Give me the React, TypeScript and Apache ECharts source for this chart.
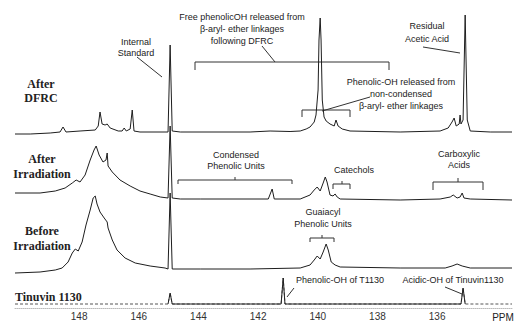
import React, { useEffect, useRef } from "react";
import * as echarts from "echarts";

// chemical shift (ppm) and intensity (arbitrary units) for each trace
const dfrcPpm = [150.15, 149.64, 148.97, 148.64, 148.54, 148.44, 147.97, 147.46, 147.36, 147.30, 147.23, 147.13, 147.06, 146.96, 146.69, 146.56, 146.49, 146.42, 146.29, 146.22, 146.16, 145.96, 145.02, 144.95, 144.88, 144.61, 142.27, 141.60, 140.93, 140.59, 140.39, 140.26, 140.12, 140.06, 139.99, 139.96, 139.92, 139.89, 139.85, 139.79, 139.72, 139.59, 139.45, 139.39, 139.32, 139.18, 138.92, 137.24, 135.90, 135.63, 135.50, 135.43, 135.36, 135.26, 135.23, 135.20, 135.13, 135.06, 134.99, 134.89, 134.22, 133.49];
const dfrcInt = [-2, -2, -1, 0, 5, 0, 1, 2, 6, 20, 8, 7, 8, 4, 1, 1, 4, 1, 3, 22, 1, 0, 0, 87, 1, 0, 0, 1, 0.5, 1, 3, 5, 10, 17, 42, 92, 114, 92, 32, 15, 11, 8, 6, 12, 6, 3, 1, 0, 1, 4, 10, 14, 6, 8, 17, 8, 12, 117, 12, 1, 0, 0];

const irrPpm = [150.15, 149.31, 148.80, 148.47, 148.23, 148.10, 147.97, 147.80, 147.63, 147.50, 147.43, 147.33, 147.20, 147.10, 147.06, 147.03, 146.89, 146.63, 146.29, 145.96, 145.62, 145.28, 145.02, 144.95, 144.88, 144.61, 143.94, 141.66, 141.53, 141.46, 140.59, 140.26, 140.12, 140.02, 139.92, 139.82, 139.75, 139.69, 139.59, 139.49, 139.42, 139.35, 139.25, 137.24, 135.90, 135.56, 135.46, 135.33, 135.23, 135.16, 135.10, 134.89, 133.49];
const irrInt = [6, 6, 8, 11, 16, 19, 17, 24, 39, 49, 53, 44, 37, 39, 46, 33, 27, 19, 13, 8, 5, 2, 1, 73, 1, 0, 0, 0, 10, 0, 0, 4, 9, 12, 8, 16, 22, 17, 4, 3, 5, 2, 0, -1, 0, 2, 4, 1, 2, 6, 1, 0, -1];

const prePpm = [150.15, 149.31, 148.80, 148.57, 148.37, 148.23, 148.13, 148.03, 147.90, 147.77, 147.63, 147.53, 147.46, 147.40, 147.30, 147.16, 147.06, 147.03, 146.89, 146.73, 146.46, 146.12, 145.62, 145.12, 145.02, 144.95, 144.88, 143.94, 142.27, 140.59, 140.26, 140.12, 140.02, 139.92, 139.82, 139.72, 139.65, 139.55, 139.42, 139.25, 137.24, 135.73, 135.50, 135.33, 135.16, 134.89, 133.49];
const preInt = [-4, -3, -1, 1, 7, 16, 20, 18, 27, 44, 59, 71, 73, 65, 57, 51, 47, 41, 29, 19, 11, 6, 3, 1, 0, 76, 0, 0, 0, 1, 4, 9, 13, 10, 17, 25, 19, 7, 4, 2, 1, 1, 3, 5, 3, 1, 1];

const tinPpm = [150.15, 145.02, 144.95, 144.88, 141.23, 141.16, 141.10, 135.20, 135.13, 135.06, 133.49];
const tinInt = [0, 0, 11, 0, 0, 26, 0, 0, 16, 0, 0];

const tickLabels = [148, 146, 144, 142, 140, 138, 136];

const FONT_SANS = "'Liberation Sans', Arial, sans-serif";
const FONT_SERIF = "'Liberation Serif', 'Times New Roman', serif";

function build(ppm: number[], inten: number[], offset: number) {
  return ppm.map((p, i) => [p, inten[i] + offset]);
}

// only the points belonging to peaks (non-zero or adjacent to non-zero)
function buildPeaks(ppm: number[], inten: number[], offset: number) {
  return ppm.map((p, i) => {
    const near = inten[i] !== 0 || (inten[i - 1] ?? 0) !== 0 || (inten[i + 1] ?? 0) !== 0;
    return near ? [p, inten[i] + offset] : [p, null];
  });
}

function txt(text: string, x: number, y: number, opts: any = {}) {
  return {
    type: "text",
    silent: true,
    style: {
      text,
      x,
      y,
      align: opts.align || "center",
      verticalAlign: "middle",
      fontSize: opts.fontSize || 9,
      fontFamily: opts.serif ? FONT_SERIF : FONT_SANS,
      fontWeight: opts.bold ? "bold" : "normal",
      lineHeight: opts.lh || 12,
      fill: "#222",
    },
  };
}

function pl(points: number[][]) {
  return {
    type: "polyline",
    silent: true,
    shape: { points },
    style: { stroke: "#333", lineWidth: 1, fill: null },
  };
}

export default function App() {
  const ref = useRef<HTMLDivElement>(null);
  useEffect(() => {
    if (!ref.current) return;
    const chart = echarts.init(ref.current, null, { renderer: "svg" });
    const lineBase = {
      type: "line",
      symbol: "none",
      silent: true,
      lineStyle: { color: "#1e1e1e", width: 1 },
    };
    chart.setOption({
      animation: false,
      backgroundColor: "#ffffff",
      grid: { left: 15, right: 8, top: 0, bottom: 16 },
      xAxis: {
        type: "value",
        inverse: true,
        min: 133.49,
        max: 150.15,
        axisLine: { show: true, lineStyle: { color: "#bbb", type: "dotted" } },
        axisTick: { show: false },
        splitLine: { show: false },
        axisLabel: {
          customValues: tickLabels,
          margin: 3,
          fontSize: 10,
          color: "#333",
          fontFamily: FONT_SANS,
        },
      },
      yAxis: { type: "value", min: 0, max: 308, show: false },
      series: [
        { ...lineBase, name: "After DFRC", data: build(dfrcPpm, dfrcInt, 176) },
        { ...lineBase, name: "After Irradiation", data: build(irrPpm, irrInt, 109) },
        { ...lineBase, name: "Before Irradiation", data: build(prePpm, preInt, 39) },
        {
          ...lineBase,
          name: "Tinuvin 1130",
          data: build(tinPpm, tinInt, 4),
          lineStyle: { color: "#555", width: 1, type: [3, 2] },
        },
        {
          ...lineBase,
          name: "Tinuvin 1130 peaks",
          connectNulls: false,
          data: buildPeaks(tinPpm, tinInt, 4),
          lineStyle: { color: "#222", width: 1 },
        },
      ],
      graphic: [
        txt("PPM", 503, 317, { fontSize: 10 }),
        txt("After\nDFRC", 41, 91, { serif: true, bold: true, fontSize: 12, lh: 14 }),
        txt("After\nIrradiation", 42, 166, { serif: true, bold: true, fontSize: 12, lh: 15 }),
        txt("Before\nIrradiation", 42, 238.5, { serif: true, bold: true, fontSize: 12, lh: 15 }),
        txt("Tinuvin 1130", 15, 297, { serif: true, bold: true, fontSize: 12, align: "left" }),
        txt("Internal\nStandard", 136, 47.5, { lh: 11 }),
        txt("Free phenolicOH released from\nβ-aryl- ether linkages\nfollowing DFRC", 242, 29, { lh: 12 }),
        txt("Phenolic-OH released from\nnon-condensed\nβ-aryl- ether linkages", 401, 94, { lh: 12 }),
        txt("Residual\nAcetic Acid", 427, 32.5, { lh: 13 }),
        txt("Condensed\nPhenolic Units", 236, 160.5, { lh: 11 }),
        txt("Catechols", 354, 170),
        txt("Carboxylic\nAcids", 459, 159.5, { lh: 11 }),
        txt("Guaiacyl\nPhenolic Units", 323, 218, { lh: 12 }),
        txt("Phenolic-OH of T1130", 340, 280),
        txt("Acidic-OH of Tinuvin1130", 453, 280),
        pl([[137, 57], [162, 77]]),
        pl([[195, 70], [195, 62], [389, 62], [389, 70]]),
        pl([[262, 46], [275, 62]]),
        pl([[302, 117], [302, 110], [350, 110], [350, 117]]),
        pl([[370, 97], [322, 111]]),
        pl([[423, 47], [460, 53]]),
        pl([[178, 184], [178, 180], [292, 180], [292, 184]]),
        pl([[235, 180], [235, 177]]),
        pl([[333, 189], [333, 184], [350, 184], [350, 189]]),
        pl([[342, 184], [342, 181]]),
        pl([[433, 190], [433, 182], [483, 182], [483, 190]]),
        pl([[458, 182], [458, 178]]),
        pl([[310, 242], [310, 238], [334, 238], [334, 242]]),
        pl([[322, 238], [322, 235]]),
        pl([[287, 297], [294, 288]]),
        pl([[445, 287], [462, 294]]),
      ],
    });
    return () => chart.dispose();
  }, []);
  return (
    <div
      ref={ref}
      style={{ position: "fixed", left: 0, top: 0, width: 520, height: 324, background: "#fff" }}
    />
  );
}
